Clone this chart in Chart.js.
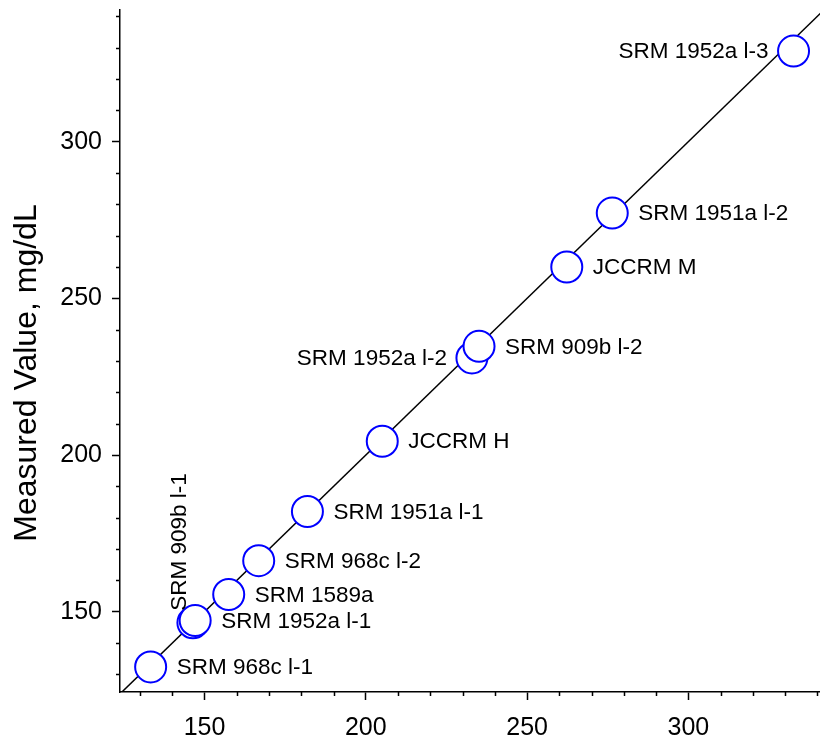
<!DOCTYPE html>
<html>
<head>
<meta charset="utf-8">
<script src="https://cdn.jsdelivr.net/npm/chart.js@4.4.1/dist/chart.umd.min.js"></script>
<style>
body{margin:0;background:#fff;}
canvas{display:block;}
</style>
</head>
<body>
<canvas id="myChart" width="820" height="739"></canvas>
<script>
// reference materials: certified vs measured value, mg/dL
const sampleNames = ['SRM 968c l-1','SRM 909b l-1','SRM 1952a l-1','SRM 1589a','SRM 968c l-2','SRM 1951a l-1',
                     'JCCRM H','SRM 1952a l-2','SRM 909b l-2','JCCRM M','SRM 1951a l-2','SRM 1952a l-3'];
const certifiedValues = [133.3,146.4,147.1,157.5,166.8,181.9,205.1,232.9,235.1,262.3,276.4,332.6];
const measuredValues  = [132.4,146.5,147.2,155.5,166.3,182.0,204.4,231.0,234.7,260.0,277.2,328.9];
// where each name sits relative to its circle
const labelSide = ['right','up','right','right','right','right','right','left','right','right','right','left'];

const xTicks = [150,200,250,300];
const yTicks = [150,200,250,300];
const minorStep = 10;
const xRange = [123.8,340.8];
const yRange = [124.4,342];
const identityLine = [123.8,342];

const fontFamily = '"Liberation Sans", Arial, sans-serif';

const points = certifiedValues.map((v,i) => ({x:v, y:measuredValues[i]}));

const minorTicks = {
    id:'minorTicks',
    afterDraw(chart){
        const ctx = chart.ctx;
        const xs = chart.scales.x;
        const ys = chart.scales.y;
        const area = chart.chartArea;
        ctx.save();
        ctx.strokeStyle = '#000';
        ctx.lineWidth = 1.5;
        ctx.beginPath();
        for(let v=Math.ceil(xs.min/minorStep)*minorStep; v<=xs.max; v+=minorStep){
            if(xTicks.includes(v)) continue;
            const px = Math.round(xs.getPixelForValue(v))+0.5;
            ctx.moveTo(px, area.bottom);
            ctx.lineTo(px, area.bottom+4);
        }
        for(let v=Math.ceil(ys.min/minorStep)*minorStep; v<=ys.max; v+=minorStep){
            if(yTicks.includes(v)) continue;
            const py = Math.round(ys.getPixelForValue(v))+0.5;
            ctx.moveTo(area.left, py);
            ctx.lineTo(area.left-4, py);
        }
        ctx.stroke();

        // y axis title
        ctx.fillStyle = '#000';
        ctx.font = '32px ' + fontFamily;
        ctx.translate(36, 373);
        ctx.rotate(-Math.PI/2);
        ctx.textAlign = 'center';
        ctx.textBaseline = 'alphabetic';
        ctx.fillText('Measured Value, mg/dL', 0, 0);
        ctx.restore();
    }
};

const pointLabels = {
    id:'pointLabels',
    afterDatasetsDraw(chart){
        const ctx = chart.ctx;
        const meta = chart.getDatasetMeta(0);
        ctx.save();
        ctx.fillStyle = '#000';
        ctx.font = '22.5px ' + fontFamily;
        ctx.textBaseline = 'middle';
        meta.data.forEach((pt,i) => {
            const side = labelSide[i];
            if(side === 'right'){
                ctx.textAlign = 'left';
                ctx.fillText(sampleNames[i], pt.x+26, pt.y+1);
            }else if(side === 'left'){
                ctx.textAlign = 'right';
                ctx.fillText(sampleNames[i], pt.x-25, pt.y+1);
            }else{
                ctx.save();
                ctx.translate(pt.x-13, pt.y-12);
                ctx.rotate(-Math.PI/2);
                ctx.textAlign = 'left';
                ctx.fillText(sampleNames[i], 0, 0);
                ctx.restore();
            }
        });
        ctx.restore();
    }
};

const conf = {
    type:'scatter',
    data:{
        datasets:[{
            label:'Samples',
            data:points,
            pointRadius:15.5,
            pointHoverRadius:15.5,
            pointBorderWidth:2,
            borderColor:'#0000ff',
            backgroundColor:'#ffffff',
            clip:false,
            order:0
        },{
            type:'line',
            label:'Identity',
            data:identityLine.map(v => ({x:v, y:v})),
            borderColor:'#000',
            borderWidth:1.5,
            pointRadius:0,
            fill:false,
            order:1
        }]
    },
    options:{
        responsive:false,
        animation:false,
        layout:{autoPadding:false,padding:{top:10,right:0,left:0,bottom:0}},
        plugins:{
            legend:{display:false},
            tooltip:{enabled:false}
        },
        scales:{
            x:{
                type:'linear',
                min:xRange[0],
                max:xRange[1],
                afterBuildTicks(scale){ scale.ticks = xTicks.map(v => ({value:v})); },
                afterFit(scale){ scale.height = 47; scale.paddingLeft = 0; scale.paddingRight = 0; },
                border:{display:true,color:'#000',width:1.5},
                grid:{drawOnChartArea:false,tickLength:8,tickColor:'#000',tickWidth:1.5},
                ticks:{color:'#000',padding:13,maxRotation:0,font:{family:fontFamily,size:25}}
            },
            y:{
                type:'linear',
                min:yRange[0],
                max:yRange[1],
                afterBuildTicks(scale){ scale.ticks = yTicks.map(v => ({value:v})); },
                afterFit(scale){ scale.width = 120; scale.paddingTop = 0; scale.paddingBottom = 0; },
                border:{display:true,color:'#000',width:1.5},
                grid:{drawOnChartArea:false,tickLength:8,tickColor:'#000',tickWidth:1.5},
                ticks:{color:'#000',padding:10,font:{family:fontFamily,size:25}}
            }
        }
    },
    plugins:[minorTicks,pointLabels]
};

const ctx = document.getElementById('myChart').getContext('2d');
const chart = new Chart(ctx,conf);
</script>
</body>
</html>
